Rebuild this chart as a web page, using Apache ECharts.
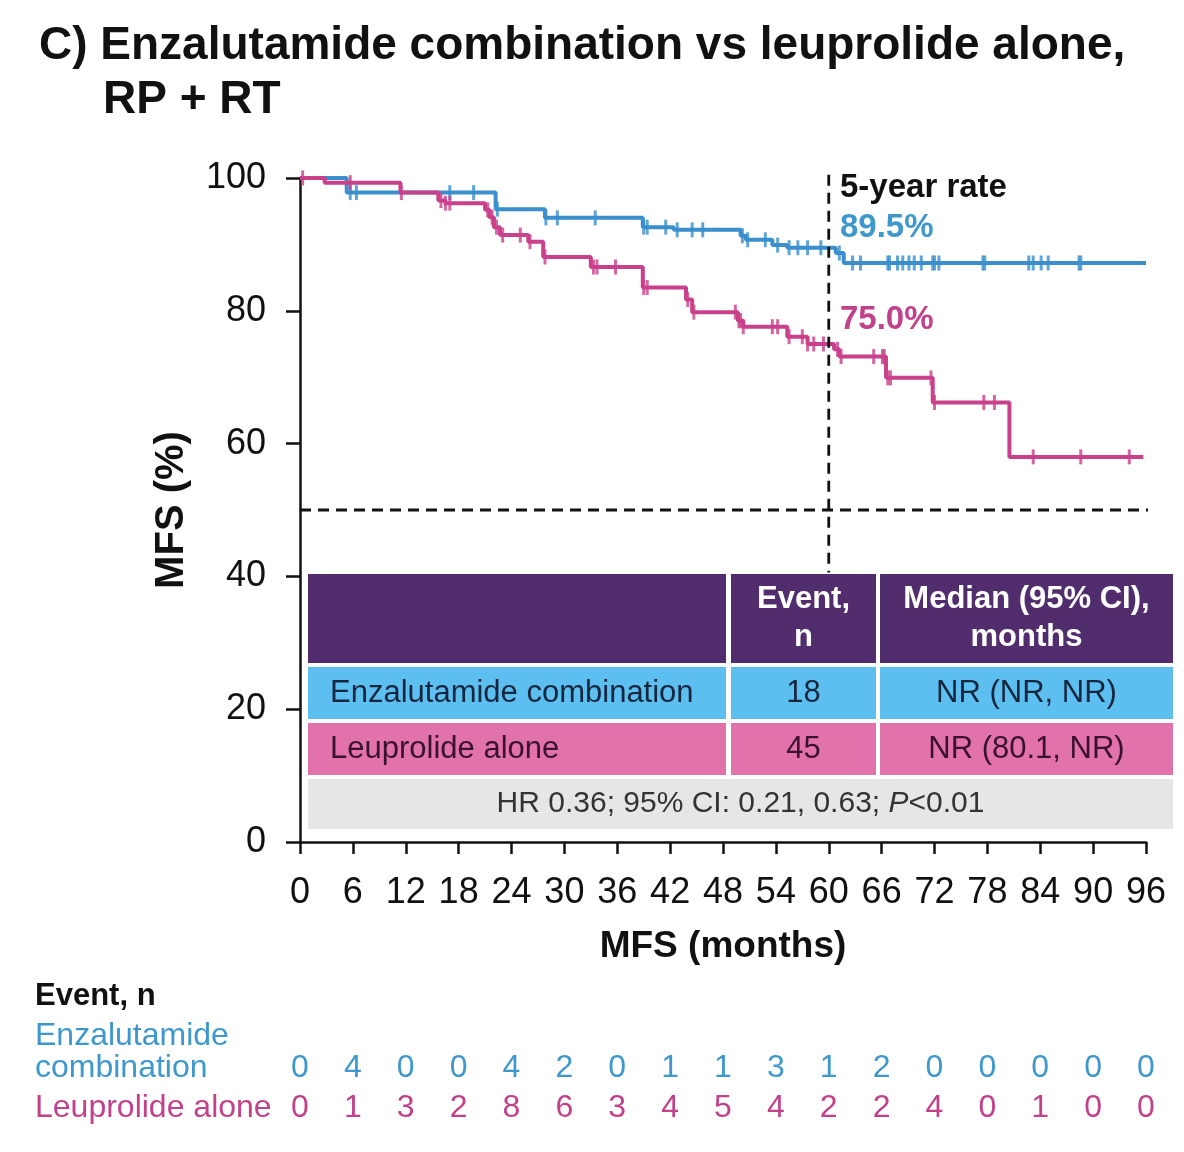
<!DOCTYPE html>
<html><head><meta charset="utf-8">
<script src="https://cdn.jsdelivr.net/npm/echarts@6/dist/echarts.min.js"></script>
<style>html,body{margin:0;padding:0;background:#fff}#c{width:1184px;height:1152px}</style>
</head><body><div id="c"></div>
<script>
// ---------------- data ----------------
const xTicks = [0,6,12,18,24,30,36,42,48,54,60,66,72,78,84,90,96];
const enzaEvents = [0,4,0,0,4,2,0,1,1,3,1,2,0,0,0,0,0];
const leuEvents  = [0,1,3,2,8,6,3,4,5,4,2,2,4,0,1,0,0];

// Kaplan-Meier steps [month, MFS %]
const enzaCurve = [[0,100],[5.3,97.8],[22.2,95.3],[27.8,94.0],[38.9,92.6],[42.4,92.2],[50.0,91.3],[50.6,90.7],[53.6,89.9],[55.3,89.5],[60.8,88.7],[61.7,87.2],[96,87.2]];
const leuCurve  = [[0,100],[2.8,99.3],[11.4,97.8],[15.7,96.6],[16.5,96.2],[21.0,95.2],[21.5,94.1],[22.0,92.6],[22.7,91.4],[25.9,90.4],[27.6,88.1],[33.0,86.6],[38.9,83.5],[43.8,81.7],[44.5,79.8],[49.7,78.5],[50.3,77.6],[55.3,76.1],[57.6,75.0],[60.6,74.2],[61.2,73.1],[66.5,69.9],[71.8,66.2],[80.5,58.0],[95.7,58.0]];

// censoring times (months)
const enzaCensor = [5.7,6.4,17.0,19.7,22.4,27.9,29.2,33.5,39.0,39.4,41.5,42.8,44.5,45.7,50.2,50.8,52.8,54.2,55.5,56.5,57.6,59.1,61.2,62.7,63.6,66.7,66.9,67.8,68.4,69.1,69.7,70.5,71.8,72.0,72.5,77.5,77.7,82.7,83.2,84.1,84.9,88.4,88.6];
const leuCensor  = [0.3,5.7,11.5,16.0,16.5,17.0,21.3,21.8,22.3,23.0,25.0,26.1,27.8,33.3,33.7,35.8,39.0,39.4,44.0,44.7,49.4,49.8,50.0,50.3,53.6,54.2,55.5,57.0,57.6,58.3,59.4,61.0,61.4,65.1,66.1,66.3,66.7,67.0,71.6,72.0,77.6,78.8,83.2,88.6,94.1];

// reference lines
const medianLine = [[0,50],[96.4,50]];
const fiveYearLine = [[60,100.5],[60,40.6]];

const fiveYearRates = ['89.5%','75.0%'];
const tableHeader = ['', 'Event,\nn', 'Median (95% CI),\nmonths'];
const tableRows = [
  ['Enzalutamide combination','18','NR (NR, NR)'],
  ['Leuprolide alone','45','NR (80.1, NR)']
];
const hrParts = ['HR 0.36; 95% CI: 0.21, 0.63; ','P','<0.01'];

// ---------------- styles ----------------
const FONT = "'Liberation Sans', Arial, Helvetica, sans-serif";
const BLUE = '#3a8fcc', PINK = '#c9408b';
const BLUE_TXT = '#3f98cc', PINK_TXT = '#c2418b';

function lookup(curve, t){
  let v = curve[0][1];
  for (const p of curve){ if (p[0] <= t) v = p[1]; else break; }
  return v;
}
const enzaMarks = enzaCensor.map(t => [t, lookup(enzaCurve, t)]);
const leuMarks  = leuCensor.map(t => [t, lookup(leuCurve, t)]);

const chart = echarts.init(document.getElementById('c'), null, {renderer:'canvas'});

const countAxis = (arr, color, offset) => ({
  type:'value', gridIndex:0, position:'bottom', min:0, max:96, interval:6, offset:offset,
  axisLine:{show:false}, axisTick:{show:false}, splitLine:{show:false},
  axisLabel:{show:true, margin:0, verticalAlign:'middle', color:color, fontSize:32, fontFamily:FONT,
    formatter: v => { const i = xTicks.indexOf(v); return i >= 0 ? String(arr[i]) : ''; }}
});

// table graphic
const tL = 308, tR = 1173;
const cols = [[308,726],[731,876],[880,1173]];
const rowsY = [[574,663],[667,719],[723,775]];
const fills = ['#512d6e','#5cbff0','#e272ab'];
const txtCol = ['#ffffff','#15263f','#3a1230'];
const g = [];
rowsY.forEach((ry, r) => {
  cols.forEach((cx, c) => {
    g.push({type:'rect', z:100, shape:{x:cx[0], y:ry[0], width:cx[1]-cx[0], height:ry[1]-ry[0]}, style:{fill:fills[r]}});
    const txt = r === 0 ? tableHeader[c] : tableRows[r-1][c];
    if (txt) {
      const left = (c === 0);
      g.push({type:'text', z:101, x: left ? cx[0]+22 : (cx[0]+cx[1])/2, y:(ry[0]+ry[1])/2,
        style:{text:txt, fill:txtCol[r], font:(r===0?'bold ':'')+'31px '+FONT, lineHeight:38,
          textAlign: left ? 'left':'center', textVerticalAlign:'middle'}});
    }
  });
});
g.push({type:'rect', z:100, shape:{x:tL, y:779, width:tR-tL, height:50}, style:{fill:'#e6e6e6'}});
g.push({type:'text', z:101, x:(tL+tR)/2, y:804, style:{
  text:'{n|'+hrParts[0]+'}{i|'+hrParts[1]+'}{n|'+hrParts[2]+'}',
  textAlign:'center', textVerticalAlign:'middle',
  rich:{n:{fontSize:30, fontFamily:FONT, fill:'#333'}, i:{fontSize:30, fontFamily:FONT, fontStyle:'italic', fill:'#333'}}
}});
// annotations
g.push({type:'text', z:101, x:840, y:188, style:{text:'5-year rate', fill:'#111', font:'bold 33px '+FONT, textVerticalAlign:'middle'}});
g.push({type:'text', z:101, x:840, y:228, style:{text:fiveYearRates[0], fill:BLUE_TXT, font:'bold 33px '+FONT, textVerticalAlign:'middle'}});
g.push({type:'text', z:101, x:840, y:320, style:{text:fiveYearRates[1], fill:PINK_TXT, font:'bold 33px '+FONT, textVerticalAlign:'middle'}});
// bottom event table labels
g.push({type:'text', z:101, x:35, y:996, style:{text:'Event, n', fill:'#111', font:'bold 31px '+FONT, textVerticalAlign:'middle'}});
g.push({type:'text', z:101, x:35, y:1036, style:{text:'Enzalutamide', fill:BLUE_TXT, font:'32px '+FONT, textVerticalAlign:'middle'}});
g.push({type:'text', z:101, x:35, y:1068, style:{text:'combination', fill:BLUE_TXT, font:'32px '+FONT, textVerticalAlign:'middle'}});
g.push({type:'text', z:101, x:35, y:1108, style:{text:'Leuprolide alone', fill:PINK_TXT, font:'32px '+FONT, textVerticalAlign:'middle'}});

const dashStyle = {color:'#111', type:[11,7], width:2.8};

const option = {
  animation:false,
  backgroundColor:'#fff',
  title:[
    {text:'C) Enzalutamide combination vs leuprolide alone,', left:34, top:18, textStyle:{fontSize:46, fontWeight:'bold', color:'#111', fontFamily:FONT}},
    {text:'RP + RT', left:98, top:72, textStyle:{fontSize:46, fontWeight:'bold', color:'#111', fontFamily:FONT}}
  ],
  grid:{left:300, right:38, top:178, bottom:310, containLabel:false},
  xAxis:[
    {type:'value', min:0, max:96, interval:6,
      name:'MFS (months)', nameLocation:'middle', nameGap:86,
      nameTextStyle:{fontSize:37, fontWeight:'bold', color:'#111', fontFamily:FONT},
      axisLine:{lineStyle:{color:'#111', width:2.5}},
      axisTick:{length:12, lineStyle:{color:'#111', width:2.5}},
      splitLine:{show:false},
      axisLabel:{fontSize:36, color:'#111', margin:33, fontFamily:FONT}},
    countAxis(enzaEvents, BLUE_TXT, 226),
    countAxis(leuEvents, PINK_TXT, 266)
  ],
  yAxis:{type:'value', min:0, max:100, interval:20,
    name:'MFS (%)', nameLocation:'middle', nameGap:108, nameRotate:90,
    nameTextStyle:{fontSize:40, fontWeight:'bold', color:'#111', fontFamily:FONT},
    axisLine:{show:true, lineStyle:{color:'#111', width:2.5}},
    axisTick:{show:true, length:14, lineStyle:{color:'#111', width:2.5}},
    splitLine:{show:false},
    axisLabel:{fontSize:36, color:'#111', margin:34, fontFamily:FONT}},
  series:[
    {type:'line', data:medianLine, symbol:'none', lineStyle:dashStyle, z:2, clip:false, silent:true},
    {type:'line', data:fiveYearLine, symbol:'none', lineStyle:dashStyle, z:5, clip:false, silent:true},
    {type:'line', name:'Enzalutamide combination', step:'end', data:enzaCurve, symbol:'none',
      lineStyle:{color:BLUE, width:4}, z:3},
    {type:'line', name:'Leuprolide alone', step:'end', data:leuCurve, symbol:'none',
      lineStyle:{color:PINK, width:4}, z:4},
    {type:'scatter', data:enzaMarks, symbol:'rect', symbolSize:[3,15], itemStyle:{color:BLUE}, z:3},
    {type:'scatter', data:leuMarks, symbol:'rect', symbolSize:[3,15], itemStyle:{color:PINK}, z:4}
  ],
  graphic:g
};
chart.setOption(option);
</script>
</body></html>
